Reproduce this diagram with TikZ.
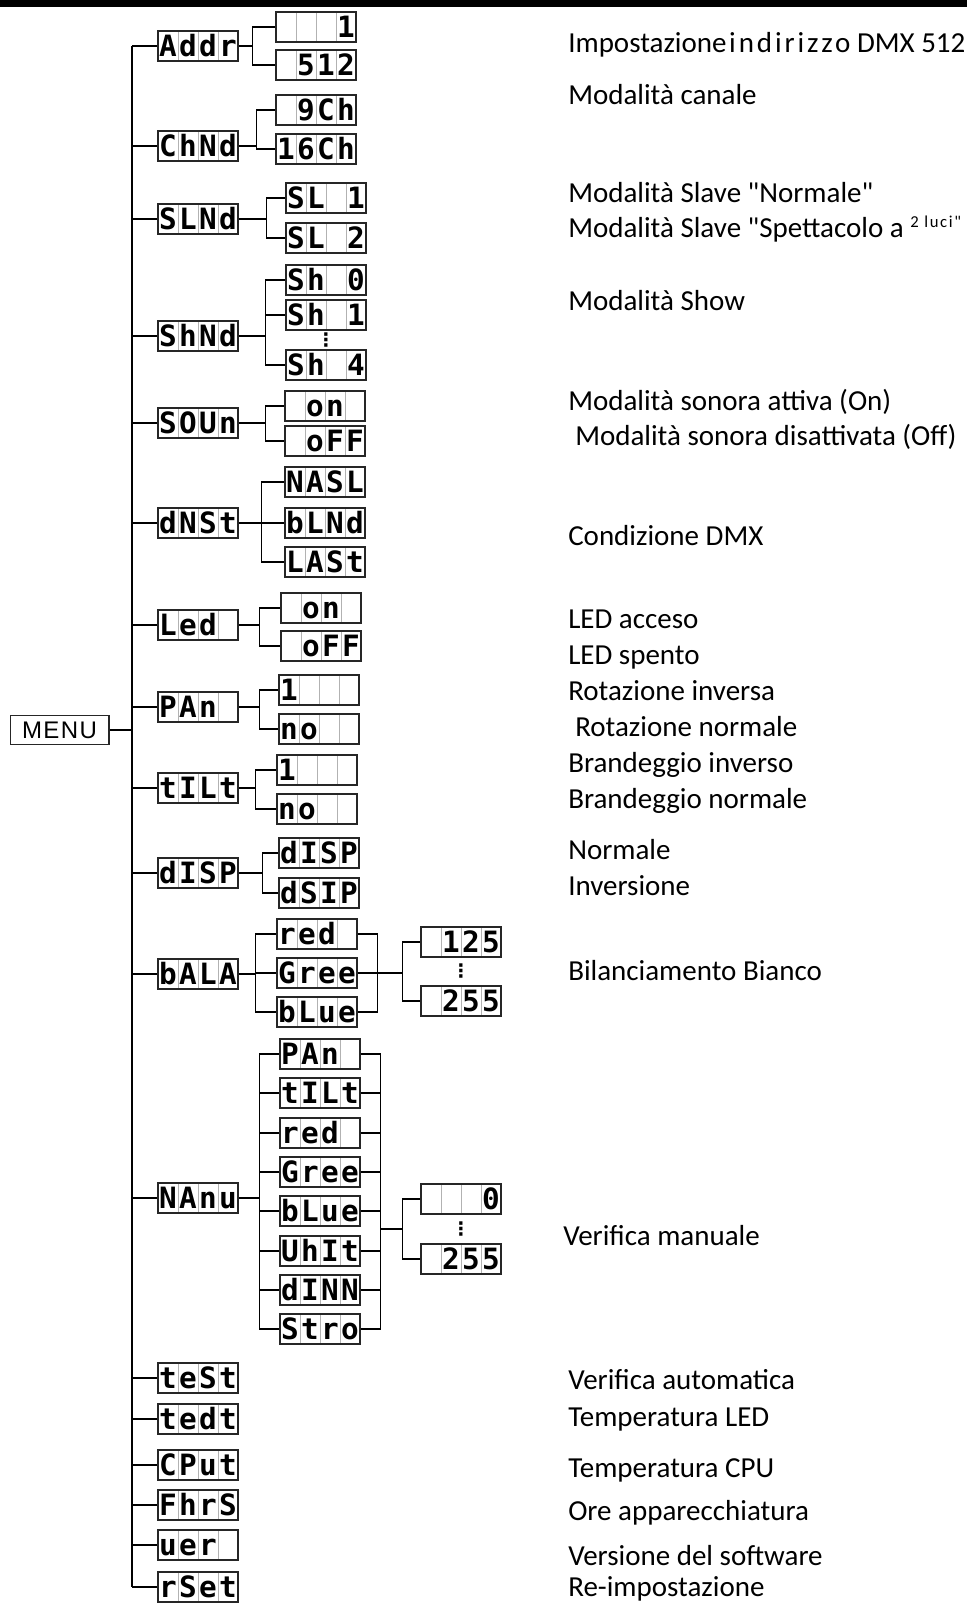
\documentclass[tikz,border=0pt]{standalone}
\usepackage{fontspec}
\setmainfont{Carlito}[Ligatures=TeXOff]
\newfontfamily\lcdfont{DejaVu Sans Mono}
\newfontfamily\menufont{Liberation Sans}[LetterSpace=6]
\newfontfamily\spacedfont{Carlito}[LetterSpace=10, Ligatures=TeXOff]
\newfontfamily\symfont{DejaVu Sans}
\usepackage{tikz}
\usetikzlibrary{positioning, calc}

% one display: four cells, one character each
\newcommand{\lcd}[4]{\makebox[15pt]{#1}\makebox[15pt]{#2}\makebox[15pt]{#3}\makebox[15pt]{#4}}

\begin{document}
\begin{tikzpicture}[
  x=0.75pt, y=-0.75pt,
  lcdbox/.style={draw=black!85, line width=1pt, minimum width=60pt, minimum height=22.5pt,
    inner sep=0pt, text height=16pt, text depth=0pt,
    font=\lcdfont\bfseries\fontsize{22}{22}\selectfont,
    path picture={
      \foreach \k in {1,2,3}
        \draw[black!30, line width=0.6pt]
          ($(path picture bounding box.north west)!{\k/4}!(path picture bounding box.north east)$) --
          ($(path picture bounding box.south west)!{\k/4}!(path picture bounding box.south east)$);
    }},
  menubox/.style={draw=black!85, line width=1pt, minimum width=74pt, minimum height=22pt,
    inner sep=0pt, font=\menufont\fontsize{18}{18}\selectfont},
  desc/.style={anchor=base west, inner sep=0pt, font=\fontsize{21.75}{26}\selectfont},
  trunk/.style={line width=2.2pt},
  wire/.style={line width=1.1pt},
  vdots/.style={inner sep=0pt, font=\symfont\bfseries\fontsize{14}{14}\selectfont}
  ]
\useasboundingbox (0,0) rectangle (967,1604);
\fill (0,0) rectangle (967,6.5);

% Main menu
\node[menubox] (menu) at (59.5,730) {MENU};
\coordinate (top) at (132,46);
\coordinate (bot) at (132,1587);

% First level
\node[lcdbox] (addr) at (198,46) {\lcd{A}{d}{d}{r}};
\node[lcdbox] (chmd) at (198,146) {\lcd{C}{h}{N}{d}};
\node[lcdbox] (slmd) at (198,219) {\lcd{S}{L}{N}{d}};
\node[lcdbox] (shmd) at (198,336) {\lcd{S}{h}{N}{d}};
\node[lcdbox] (soun) at (198,423) {\lcd{S}{O}{U}{n}};
\node[lcdbox] (dmst) at (198,523) {\lcd{d}{N}{S}{t}};
\node[lcdbox] (led) at (198,625) {\lcd{L}{e}{d}{}};
\node[lcdbox] (pan) at (198,707) {\lcd{P}{A}{n}{}};
\node[lcdbox] (tilt) at (198,788) {\lcd{t}{I}{L}{t}};
\node[lcdbox] (dsp) at (198,873) {\lcd{d}{I}{S}{P}};
\node[lcdbox] (bala) at (198,974) {\lcd{b}{A}{L}{A}};
\node[lcdbox] (manu) at (198,1198) {\lcd{N}{A}{n}{u}};
\node[lcdbox] (test) at (198,1378) {\lcd{t}{e}{S}{t}};
\node[lcdbox] (tedt) at (198,1419) {\lcd{t}{e}{d}{t}};
\node[lcdbox] (cput) at (198,1465) {\lcd{C}{P}{u}{t}};
\node[lcdbox] (fhrs) at (198,1505) {\lcd{F}{h}{r}{S}};
\node[lcdbox] (uer) at (198,1545) {\lcd{u}{e}{r}{}};
\node[lcdbox] (rset) at (198,1587) {\lcd{r}{S}{e}{t}};

% Second level
\node[lcdbox] (a1) at (316,27) {\lcd{}{}{}{1}};
\node[lcdbox] (a512) at (316,65) {\lcd{}{5}{1}{2}};
\node[lcdbox] (ch9) at (316,110) {\lcd{}{9}{C}{h}};
\node[lcdbox] (ch16) at (316,149) {\lcd{1}{6}{C}{h}};
\node[lcdbox] (sl1) at (326,198) {\lcd{S}{L}{}{1}};
\node[lcdbox] (sl2) at (326,238) {\lcd{S}{L}{}{2}};
\node[lcdbox] (sh0) at (326,280) {\lcd{S}{h}{}{0}};
\node[lcdbox] (sh1) at (326,315) {\lcd{S}{h}{}{1}};
\node[vdots] (shdots) at (326,340) {⋮};
\node[lcdbox] (sh4) at (326,365) {\lcd{S}{h}{}{4}};
\node[lcdbox] (son) at (325,406) {\lcd{}{o}{n}{}};
\node[lcdbox] (soff) at (325,441) {\lcd{}{o}{F}{F}};
\node[lcdbox] (nasl) at (325,482) {\lcd{N}{A}{S}{L}};
\node[lcdbox] (blnd) at (325,523) {\lcd{b}{L}{N}{d}};
\node[lcdbox] (last) at (325,562) {\lcd{L}{A}{S}{t}};
\node[lcdbox] (ledon) at (321,608) {\lcd{}{o}{n}{}};
\node[lcdbox] (ledoff) at (321,646) {\lcd{}{o}{F}{F}};
\node[lcdbox] (pan1) at (319,690) {\lcd{1}{}{}{}};
\node[lcdbox] (panno) at (319,729) {\lcd{n}{o}{}{}};
\node[lcdbox] (tilt1) at (317,770) {\lcd{1}{}{}{}};
\node[lcdbox] (tiltno) at (317,809) {\lcd{n}{o}{}{}};
\node[lcdbox] (dsp1) at (319,853) {\lcd{d}{I}{S}{P}};
\node[lcdbox] (dsp2) at (319,893) {\lcd{d}{S}{I}{P}};
\node[lcdbox] (bred) at (317,934) {\lcd{r}{e}{d}{}};
\node[lcdbox] (bgre) at (317,973) {\lcd{G}{r}{e}{e}};
\node[lcdbox] (bblu) at (317,1012) {\lcd{b}{L}{u}{e}};
\node[lcdbox] (b125) at (461,942) {\lcd{}{1}{2}{5}};
\node[vdots] (bdots) at (461,971) {⋮};
\node[lcdbox] (b255) at (461,1001) {\lcd{}{2}{5}{5}};
\node[lcdbox] (mpan) at (320,1054) {\lcd{P}{A}{n}{}};
\node[lcdbox] (mtilt) at (320,1093) {\lcd{t}{I}{L}{t}};
\node[lcdbox] (mred) at (320,1133) {\lcd{r}{e}{d}{}};
\node[lcdbox] (mgre) at (320,1172) {\lcd{G}{r}{e}{e}};
\node[lcdbox] (mblu) at (320,1211) {\lcd{b}{L}{u}{e}};
\node[lcdbox] (mwht) at (320,1251) {\lcd{U}{h}{I}{t}};
\node[lcdbox] (mdim) at (320,1290) {\lcd{d}{I}{N}{N}};
\node[lcdbox] (mstr) at (320,1329) {\lcd{S}{t}{r}{o}};
\node[lcdbox] (m0) at (461,1199) {\lcd{}{}{}{0}};
\node[vdots] (mdots) at (461,1229) {⋮};
\node[lcdbox] (m255) at (461,1259) {\lcd{}{2}{5}{5}};

% Trunk and branches
\draw[trunk] (top) -- (bot);
\draw[wire] (menu) -- (menu -| top);
\foreach \n in {addr,chmd,slmd,shmd,soun,dmst,led,pan,tilt,dsp,bala,manu,test,tedt,cput,fhrs,uer,rset}
  \draw[wire] (\n.west) -- (\n.west -| top);

\draw[wire] (addr.east) -- ++(14,0) coordinate (addrj);
\foreach \c in {a1,a512} \draw[wire] (addrj) |- (\c.west);
\draw[wire] (chmd.east) -- ++(18,0) coordinate (chmdj);
\foreach \c in {ch9,ch16} \draw[wire] (chmdj) |- (\c.west);
\draw[wire] (slmd.east) -- ++(28,0) coordinate (slmdj);
\foreach \c in {sl1,sl2} \draw[wire] (slmdj) |- (\c.west);
\draw[wire] (shmd.east) -- ++(27,0) coordinate (shmdj);
\foreach \c in {sh0,sh1,sh4} \draw[wire] (shmdj) |- (\c.west);
\draw[wire] (soun.east) -- ++(27,0) coordinate (sounj);
\foreach \c in {son,soff} \draw[wire] (sounj) |- (\c.west);
\draw[wire] (dmst.east) -- ++(23,0) coordinate (dmstj);
\foreach \c in {nasl,blnd,last} \draw[wire] (dmstj) |- (\c.west);
\draw[wire] (led.east) -- ++(21,0) coordinate (ledj);
\foreach \c in {ledon,ledoff} \draw[wire] (ledj) |- (\c.west);
\draw[wire] (pan.east) -- ++(21,0) coordinate (panj);
\foreach \c in {pan1,panno} \draw[wire] (panj) |- (\c.west);
\draw[wire] (tilt.east) -- ++(17,0) coordinate (tiltj);
\foreach \c in {tilt1,tiltno} \draw[wire] (tiltj) |- (\c.west);
\draw[wire] (dsp.east) -- ++(24,0) coordinate (dspj);
\foreach \c in {dsp1,dsp2} \draw[wire] (dspj) |- (\c.west);

% White balance
\draw[wire] (bala.east) -- ++(17,0) coordinate (balaj);
\foreach \c in {bred,bgre,bblu} \draw[wire] (balaj) |- (\c.west);
\draw[wire] (bgre.east) -- ++(20,0) coordinate (balak);
\foreach \c in {bred,bblu} \draw[wire] (\c.east) -| (balak);
\draw[wire] (balak) -- ++(25,0) coordinate (balal);
\foreach \c in {b125,b255} \draw[wire] (balal) |- (\c.west);

% Manual test
\draw[wire] (manu.east) -- ++(21,0) coordinate (manuj);
\foreach \c in {mpan,mtilt,mred,mgre,mblu,mwht,mdim,mstr} \draw[wire] (manuj) |- (\c.west);
\draw[wire] (mpan.east) -- ++(20,0) coordinate (manuk) -- (manuk |- mstr.east) -- (mstr.east);
\foreach \c in {mtilt,mred,mgre,mblu,mwht,mdim} \draw[wire] (\c.east) -- (\c.east -| manuk);
\draw[wire] (manuk |- mdots) -- ++(22,0) coordinate (manul);
\foreach \c in {m0,m255} \draw[wire] (manul) |- (\c.west);

% Descriptions
\node[desc] (d1) at (568,52) {Impostazione\hspace{2pt}{\spacedfont indirizzo} DMX 512};
\node[desc] (d2) at (568,104) {Modalità canale};
\node[desc] (d3) at (568,202) {Modalità Slave "Normale"};
\node[desc] (d4) at (568,237) {Modalità Slave "Spettacolo a \raisebox{7pt}{\spacedfont\fontsize{12.5}{14}\selectfont 2 luci"}};
\node[desc] (d5) at (568,310) {Modalità Show};
\node[desc] (d6) at (568,410) {Modalità sonora attiva (On)};
\node[desc] (d7) at (575,445) {Modalità sonora disattivata (Off)};
\node[desc] (d8) at (568,545) {Condizione DMX};
\node[desc] (d9) at (568,628) {LED acceso};
\node[desc] (d10) at (568,664) {LED spento};
\node[desc] (d11) at (568,700) {Rotazione inversa};
\node[desc] (d12) at (575,736) {Rotazione normale};
\node[desc] (d13) at (568,772) {Brandeggio inverso};
\node[desc] (d14) at (568,808) {Brandeggio normale};
\node[desc] (d15) at (568,859) {Normale};
\node[desc] (d16) at (568,895) {Inversione};
\node[desc] (d17) at (568,980) {Bilanciamento Bianco};
\node[desc] (d18) at (563,1245) {Verifica manuale};
\node[desc] (d19) at (568,1389) {Verifica automatica};
\node[desc] (d20) at (568,1426) {Temperatura LED};
\node[desc] (d21) at (568,1477) {Temperatura CPU};
\node[desc] (d22) at (568,1520) {Ore apparecchiatura};
\node[desc] (d23) at (568,1565) {Versione del software};
\node[desc] (d24) at (568,1596) {Re-impostazione};

\end{tikzpicture}
\end{document}
